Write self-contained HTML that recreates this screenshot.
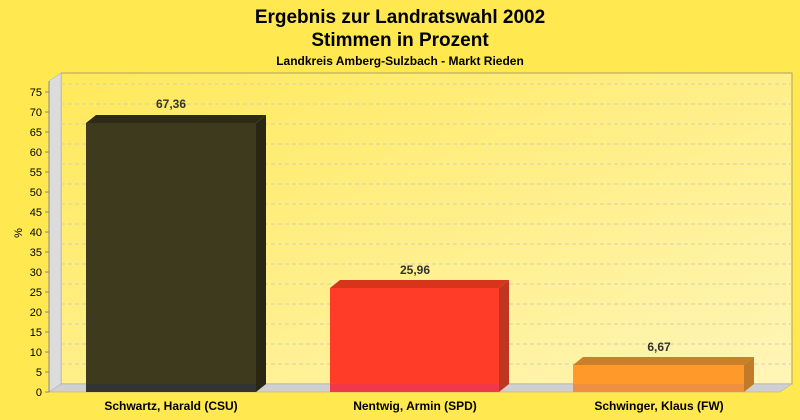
<!DOCTYPE html>
<html><head><meta charset="utf-8"><style>
body{margin:0;background:#ffe850;}
svg{display:block;font-family:"Liberation Sans",sans-serif;}
</style></head><body>
<svg width="800" height="420" viewBox="0 0 800 420">
<defs>
<linearGradient id="bg" x1="0" y1="0" x2="1" y2="1">
<stop offset="0" stop-color="#ffe95a"/><stop offset="1" stop-color="#fff5b8"/>
</linearGradient>
</defs>
<rect width="800" height="420" fill="#ffe850"/>
<text x="400" y="23" text-anchor="middle" font-size="19" font-weight="bold">Ergebnis zur Landratswahl 2002</text>
<text x="400" y="46" text-anchor="middle" font-size="19" font-weight="bold">Stimmen in Prozent</text>
<text x="400" y="65" text-anchor="middle" font-size="12" font-weight="bold">Landkreis Amberg-Sulzbach - Markt Rieden</text>
<rect x="61" y="73" width="731" height="311" fill="url(#bg)" stroke="#b0a060" stroke-width="1"/>
<polygon points="49,81 61,73 61,384 49,392" fill="#dcdcdc" stroke="#aaa" stroke-width="0.5"/>
<polygon points="49,392 61,384 792,384 780,392" fill="#d0d0d0" stroke="#aaa" stroke-width="0.5"/>
<g stroke="#d6d0b0" stroke-dasharray="4,3" stroke-width="1">
<line x1="61" x2="792" y1="84" y2="84"/><line x1="61" x2="792" y1="104" y2="104"/><line x1="61" x2="792" y1="124" y2="124"/><line x1="61" x2="792" y1="144" y2="144"/><line x1="61" x2="792" y1="164" y2="164"/><line x1="61" x2="792" y1="184" y2="184"/><line x1="61" x2="792" y1="204" y2="204"/><line x1="61" x2="792" y1="224" y2="224"/><line x1="61" x2="792" y1="244" y2="244"/><line x1="61" x2="792" y1="264" y2="264"/><line x1="61" x2="792" y1="284" y2="284"/><line x1="61" x2="792" y1="304" y2="304"/><line x1="61" x2="792" y1="324" y2="324"/><line x1="61" x2="792" y1="344" y2="344"/><line x1="61" x2="792" y1="364" y2="364"/>
</g>
<line x1="49" y1="81" x2="49" y2="392" stroke="#888"/>
<g font-size="11" text-anchor="end" fill="#000">
<text x="42" y="96">75</text><text x="42" y="116">70</text><text x="42" y="136">65</text><text x="42" y="156">60</text><text x="42" y="176">55</text><text x="42" y="196">50</text><text x="42" y="216">45</text><text x="42" y="236">40</text><text x="42" y="256">35</text><text x="42" y="276">30</text><text x="42" y="296">25</text><text x="42" y="316">20</text><text x="42" y="336">15</text><text x="42" y="356">10</text><text x="42" y="376">5</text><text x="42" y="396">0</text>
</g>
<g stroke="#888">
<line x1="45" x2="49" y1="92" y2="92"/><line x1="45" x2="49" y1="112" y2="112"/><line x1="45" x2="49" y1="132" y2="132"/><line x1="45" x2="49" y1="152" y2="152"/><line x1="45" x2="49" y1="172" y2="172"/><line x1="45" x2="49" y1="192" y2="192"/><line x1="45" x2="49" y1="212" y2="212"/><line x1="45" x2="49" y1="232" y2="232"/><line x1="45" x2="49" y1="252" y2="252"/><line x1="45" x2="49" y1="272" y2="272"/><line x1="45" x2="49" y1="292" y2="292"/><line x1="45" x2="49" y1="312" y2="312"/><line x1="45" x2="49" y1="332" y2="332"/><line x1="45" x2="49" y1="352" y2="352"/><line x1="45" x2="49" y1="372" y2="372"/><line x1="45" x2="49" y1="392" y2="392"/>
</g>
<text x="22" y="233" font-size="11" transform="rotate(-90 22 233)" text-anchor="middle">%</text>
<polygon points="86,123 96,115 266,115 256,123" fill="#2e2a18"/>
<polygon points="256,123 266,115 266,384 256,392" fill="#2a2614"/>
<rect x="86" y="123" width="170" height="269" fill="#3d3a1e"/>
<rect x="86" y="384" width="170" height="8" fill="#333"/>
<polygon points="330,288 340,280 509,280 499,288" fill="#d8341c"/>
<polygon points="499,288 509,280 509,384 499,392" fill="#c03520"/>
<rect x="330" y="288" width="169" height="104" fill="#ff3c28"/>
<rect x="330" y="384" width="169" height="8" fill="#f03848"/>
<polygon points="573,365 583,357 754,357 744,365" fill="#c8802a"/>
<polygon points="744,365 754,357 754,384 744,392" fill="#c07a28"/>
<rect x="573" y="365" width="171" height="27" fill="#ff9a2a"/>
<rect x="573" y="384" width="171" height="8" fill="#ef9040"/>
<g font-size="12" font-weight="bold" text-anchor="middle" fill="#333">
<text x="171" y="108">67,36</text><text x="415" y="274">25,96</text><text x="659" y="351">6,67</text>
</g>
<g font-size="12" font-weight="bold" text-anchor="middle" fill="#000">
<text x="171" y="410">Schwartz, Harald (CSU)</text><text x="415" y="410">Nentwig, Armin (SPD)</text><text x="659" y="410">Schwinger, Klaus (FW)</text>
</g>
</svg>
</body></html>
